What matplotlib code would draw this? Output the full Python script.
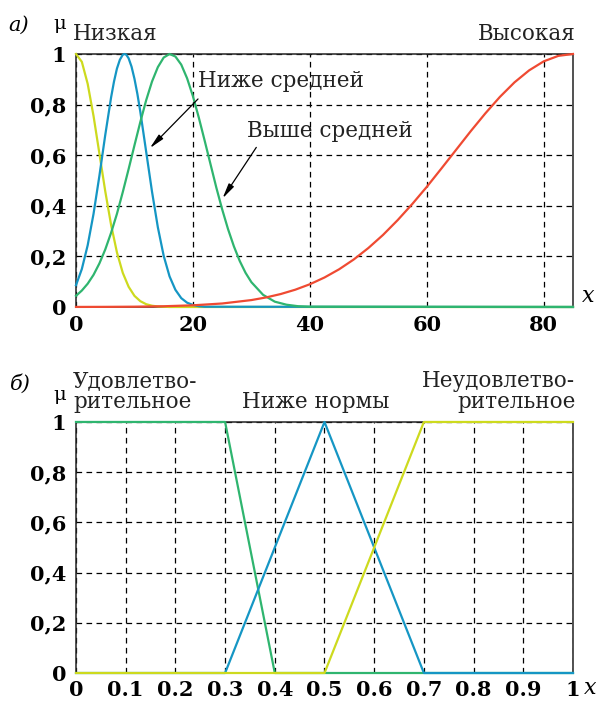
import matplotlib
matplotlib.use("Agg")
import matplotlib.pyplot as plt

# --- panel a): membership functions over x = 0..85 ---
low_x = [0, 1, 2, 3, 4, 5, 6, 7, 8, 9, 10, 11, 12, 13, 14, 16, 85]
low_mu = [1.0, 0.969, 0.882, 0.755, 0.607, 0.458, 0.325, 0.216, 0.135,
          0.080, 0.044, 0.023, 0.011, 0.005, 0.002, 0.0, 0.0]

below_x = [0, 1, 2, 3, 4, 5, 6, 6.5, 7, 7.5, 8, 8.3, 8.6, 9, 9.5, 10, 10.5,
           11, 12, 13, 14, 15, 16, 17, 18, 19, 20, 21, 22, 85]
below_mu = [0.086, 0.150, 0.244, 0.368, 0.518, 0.679, 0.828, 0.891, 0.942,
            0.977, 0.997, 1.0, 0.997, 0.983, 0.950, 0.902, 0.842, 0.772,
            0.614, 0.456, 0.315, 0.202, 0.121, 0.068, 0.035, 0.017, 0.008,
            0.003, 0.001, 0.0]

above_x = [0, 1, 2, 3, 4, 5, 6, 7, 8, 9, 10, 11, 12, 13, 14, 15, 16, 17, 18,
           19, 20, 21, 22, 23, 24, 25, 26, 27, 28, 29, 30, 32, 34, 36, 38,
           40, 85]
above_mu = [0.044, 0.065, 0.092, 0.127, 0.172, 0.227, 0.293, 0.368, 0.454,
            0.545, 0.639, 0.731, 0.817, 0.891, 0.948, 0.986, 1.0, 0.990,
            0.958, 0.904, 0.833, 0.749, 0.658, 0.565, 0.472, 0.386, 0.308,
            0.240, 0.182, 0.135, 0.098, 0.048, 0.021, 0.009, 0.003, 0.001,
            0.0]

high_x = [0, 5, 10, 15, 20, 25, 30, 32.5, 35, 37.5, 40, 42.5, 45, 47.5, 50,
          52.5, 55, 57.5, 60, 62.5, 65, 67.5, 70, 72.5, 75, 77.5, 80, 82.5, 85]
high_mu = [0.0002, 0.0005, 0.0012, 0.0029, 0.0066, 0.0138, 0.0273, 0.0377,
           0.0511, 0.0683, 0.0899, 0.1166, 0.149, 0.1877, 0.233, 0.2846,
           0.343, 0.4067, 0.475, 0.5475, 0.621, 0.6946, 0.765, 0.8304,
           0.888, 0.9353, 0.971, 0.9926, 1.0]

top_xticks = [0, 20, 40, 60, 80]
top_xlabels = ["0", "20", "40", "60", "80"]

# --- panel б): piecewise-linear membership functions over x = 0..1 ---
sat_x = [0, 0.3, 0.4, 1]
sat_mu = [1, 1, 0, 0]
norm_x = [0, 0.3, 0.5, 0.7, 1]
norm_mu = [0, 0, 1, 0, 0]
unsat_x = [0, 0.5, 0.7, 1]
unsat_mu = [0, 0, 1, 1]

bot_xticks = [0, 0.1, 0.2, 0.3, 0.4, 0.5, 0.6, 0.7, 0.8, 0.9, 1]
bot_xlabels = ["0", "0.1", "0.2", "0.3", "0.4", "0.5", "0.6", "0.7", "0.8", "0.9", "1"]

yticks = [0, 0.2, 0.4, 0.6, 0.8, 1]
ylabels = ["0", "0,2", "0,4", "0,6", "0,8", "1"]

YELLOW = "#cdda1e"
BLUE = "#1596c4"
GREEN = "#2fb56f"
RED = "#ef4a32"

plt.rcParams["font.family"] = "DejaVu Serif"


def style_axes(ax, xlim, xticks, xlabels, xpad):
    ax.set_xlim(*xlim)
    ax.set_ylim(0, 1)
    ax.set_xticks(xticks)
    ax.set_xticklabels(xlabels, fontsize=15, fontweight="bold")
    ax.set_yticks(yticks)
    ax.set_yticklabels(ylabels, fontsize=15, fontweight="bold")
    ax.tick_params(length=0, pad=7)
    ax.tick_params(axis="x", pad=xpad)
    ax.grid(True, color="black", linestyle=(0, (4.5, 3.5)), linewidth=0.9)
    for s in ax.spines.values():
        s.set_linewidth(1.1)
        s.set_color("#222222")


fig = plt.figure(figsize=(5.96, 7.02), dpi=100)
lw = 1.6
txt = dict(fontsize=15.5, color="#222222")

ax1 = fig.add_axes([0.1275, 0.5627, 0.8339, 0.3604])
style_axes(ax1, (0, 85), top_xticks, top_xlabels, 6)
ax1.plot(low_x, low_mu, color=YELLOW, lw=lw, clip_on=False, zorder=3)
ax1.plot(below_x, below_mu, color=BLUE, lw=lw, clip_on=False, zorder=3)
ax1.plot(above_x, above_mu, color=GREEN, lw=lw, clip_on=False, zorder=3)
ax1.plot(high_x, high_mu, color=RED, lw=lw, clip_on=False, zorder=3)

ax1.text(-0.5, 1.035, "Низкая", ha="left", va="bottom", **txt)
ax1.text(85.4, 1.035, "Высокая", ha="right", va="bottom", **txt)
ax1.text(20.8, 0.895, "Ниже средней", ha="left", va="center", **txt)
ax1.text(29.3, 0.697, "Выше средней", ha="left", va="center", **txt)
arrow = dict(arrowstyle="-|>,head_length=0.9,head_width=0.18", color="black", lw=0.9)
ax1.annotate("", xy=(12.3, 0.62), xytext=(21.2, 0.83), arrowprops=arrow)
ax1.annotate("", xy=(24.8, 0.42), xytext=(31.1, 0.64), arrowprops=arrow)

ax2 = fig.add_axes([0.1275, 0.0413, 0.8339, 0.3576])
style_axes(ax2, (0, 1), bot_xticks, bot_xlabels, 5)
ax2.plot(sat_x, sat_mu, color=GREEN, lw=lw, clip_on=False, zorder=3)
ax2.plot(norm_x, norm_mu, color=BLUE, lw=lw, clip_on=False, zorder=3)
ax2.plot(unsat_x, unsat_mu, color=YELLOW, lw=lw, clip_on=False, zorder=3)

ax2.text(-0.006, 1.035, "Удовлетво-\nрительное", ha="left", va="bottom",
         linespacing=0.93, **txt)
ax2.text(0.483, 1.035, "Ниже нормы", ha="center", va="bottom", **txt)
ax2.text(1.005, 1.035, "Неудовлетво-\nрительное", ha="right", va="bottom",
         linespacing=0.93, **txt)

# panel letters and axis symbols
fig.text(8 / 596, 1 - 25 / 702, "а)", fontsize=15, style="italic", va="center", ha="left")
fig.text(53 / 596, 1 - 24 / 702, "μ", fontsize=14, va="center", ha="left")
fig.text(582 / 596, 1 - 296 / 702, "x", fontsize=16, style="italic", va="center", ha="left")
fig.text(10 / 596, 1 - 384 / 702, "б)", fontsize=15, style="italic", va="center", ha="left")
fig.text(53 / 596, 1 - 395 / 702, "μ", fontsize=14, va="center", ha="left")
fig.text(584 / 596, 1 - 688 / 702, "x", fontsize=16, style="italic", va="center", ha="left")

fig.savefig("out.png", dpi=100)
